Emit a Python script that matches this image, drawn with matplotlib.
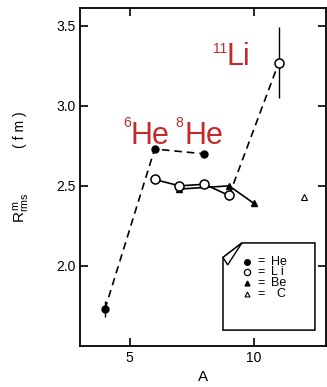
import matplotlib.pyplot as plt
import numpy as np
from matplotlib.patches import Polygon

plt.rcParams['font.family'] = ['Liberation Sans', 'DejaVu Sans']
plt.rcParams['mathtext.fontset'] = 'custom'
plt.rcParams['mathtext.rm'] = 'Liberation Sans'
plt.rcParams['mathtext.it'] = 'Liberation Sans'

# data
he_A = [4, 6, 8]
he_R = [1.73, 2.73, 2.70]
he_err = [0.05, 0.02, 0.02]
li_A = [6, 7, 8, 9, 11]
li_R = [2.54, 2.50, 2.51, 2.44, 3.27]
li_err = [0.02, 0.02, 0.02, 0.03, 0.22]
be_A = [7, 9, 10]
be_R = [2.48, 2.50, 2.39]
c_A = [12]
c_R = [2.43]

legend_names = ['He', 'L i', 'Be', 'C']

red = '#c42a2a'

fig = plt.figure(figsize=(3.27, 3.87), dpi=100)
ax = fig.add_axes([0.245, 0.106, 0.752, 0.873])

dash = (0, (4.5, 3))
# dashed guides
ax.plot(he_A, he_R, ls=dash, color='k', lw=1.2)
ax.plot(li_A[3:], li_R[3:], ls=dash, color='k', lw=1.2)
# solid lines
ax.plot(li_A[:4], li_R[:4], '-', color='k', lw=1.2)
ax.plot(be_A, be_R, '-', color='k', lw=1.2)

ax.errorbar(he_A, he_R, yerr=he_err, fmt='o', color='k', ms=5, elinewidth=1, capsize=0)
ax.errorbar(li_A, li_R, yerr=li_err, fmt='o', mfc='white', mec='k', color='k', ms=6.5,
            mew=1.1, elinewidth=1, capsize=0)
ax.plot(be_A, be_R, '^', color='k', ms=5)
ax.plot(c_A, c_R, '^', mfc='white', mec='k', ms=4, mew=0.8)

# nucleus labels: superscript mass number + element
def nucleus(x_sup, y_sup, mass, x_el, y_el, el):
    ax.text(x_sup, y_sup, mass, color=red, fontsize=10, ha='left', va='baseline')
    ax.text(x_el, y_el, el, color=red, fontsize=22, ha='left', va='baseline')

nucleus(4.74, 2.867, '6', 5.04, 2.761, 'He')
nucleus(6.84, 2.867, '8', 7.22, 2.761, 'He')
nucleus(8.34, 3.332, '11', 8.90, 3.257, 'Li')

ax.set_xlim(3, 12.9)
ax.set_ylim(1.5, 3.61)
ax.set_xticks([5, 10])
ax.set_yticks([2.0, 2.5, 3.0, 3.5])
ax.set_yticklabels(['2.0', '2.5', '3.0', '3.5'])
ax.tick_params(direction='in', length=6, width=1.2, top=True, right=True, labelsize=10)
for s in ax.spines.values():
    s.set_linewidth(1.3)
ax.set_xlabel('A', fontsize=11, labelpad=4)

# y label in two pieces, as spaced in the original
fig.text(0.068, 1 - 208 / 387, r'R$^{\,m}_{rms}$', rotation=90, fontsize=11,
         ha='center', va='center')
fig.text(0.060, 1 - 130 / 387, '( f m )', rotation=90, fontsize=10,
         ha='center', va='center')

# hand-drawn style legend box with a folded corner
box = Polygon([(0.581, 0.047), (0.955, 0.047), (0.955, 0.305), (0.658, 0.305),
               (0.581, 0.262)], closed=True, transform=ax.transAxes,
              fc='white', ec='k', lw=1.1, zorder=5)
ax.add_patch(box)
flap = Polygon([(0.658, 0.305), (0.581, 0.262), (0.600, 0.240)], closed=True,
               transform=ax.transAxes, fc='white', ec='k', lw=1.0, zorder=6)
ax.add_patch(flap)
rows = [0.250, 0.2175, 0.185, 0.1525]
styles = [dict(marker='o', color='k', ms=4),
          dict(marker='o', mfc='white', mec='k', ms=4.5, mew=0.9),
          dict(marker='^', color='k', ms=3.5),
          dict(marker='^', mfc='white', mec='k', ms=3.5, mew=0.8)]
for fy, name, st in zip(rows, legend_names, styles):
    ax.plot([0.679], [fy], ls='none', transform=ax.transAxes, zorder=7, **st)
    ax.text(0.720, fy, '=', fontsize=9, ha='left', va='center',
            transform=ax.transAxes, zorder=7)
    xo = 0.800 if name == 'C' else 0.775
    ax.text(xo, fy, name, fontsize=9, ha='left', va='center',
            transform=ax.transAxes, zorder=7)

fig.savefig('out.png', dpi=100)
